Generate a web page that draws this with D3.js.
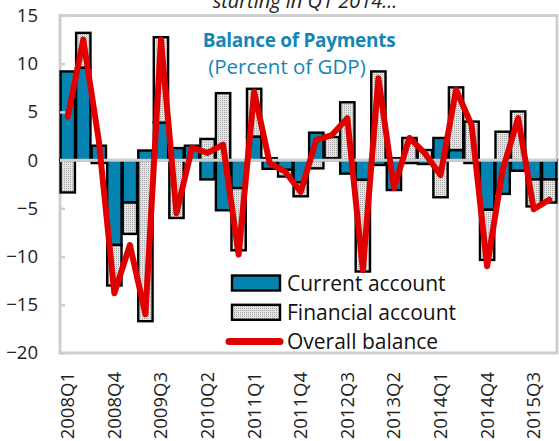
<!DOCTYPE html>
<html>
<head>
<meta charset="utf-8">
<script src="https://cdn.jsdelivr.net/npm/d3@7"></script>
<style>
  body { margin: 0; background: #fff; }
  svg { display: block; font-family: "Open Sans", "Noto Sans", sans-serif; }
</style>
</head>
<body>
<svg id="chart" width="559" height="441"></svg>
<script>
// quarters 2008Q1 .. 2015Q4
const quarters = [];
for (let y = 2008; y <= 2015; y++) for (let q = 1; q <= 4; q++) quarters.push(y + 'Q' + q);

const tickLabels = ['2008Q1', '2008Q4', '2009Q3', '2010Q2', '2011Q1', '2011Q4',
    '2012Q3', '2013Q2', '2014Q1', '2014Q4', '2015Q3'];

const currentAccount = [9.2, 9.6, 1.5, -8.8, -4.4, 1.0, 3.9, 1.25,
    1.5, -2.0, -5.2, -2.9, 2.45, -0.9, -1.0, -2.3,
    2.85, 0.2, -1.4, -2.05, -0.5, -3.1, -0.3, -0.4,
    2.3, 1.05, -0.3, -5.15, -3.5, -1.1, -2.0, -2.0];

const financialAccount = [-3.35, 3.6, -0.3, -4.2, -3.25, -16.7, 8.85, -6.0,
    0, 2.2, 6.95, -6.45, 4.95, 0.2, -0.7, -1.45,
    -0.85, 2.2, 6.0, -9.5, 9.2, 0.2, 2.3, 1.05,
    -3.85, 6.5, 4.0, -5.2, 2.95, 5.05, -2.8, -2.4];

const overallBalance = [4.5, 12.5, 2.0, -13.8, -8.8, -16.0, 12.5, -5.5,
    1.3, 0.75, 1.6, -9.8, 7.1, -0.3, -1.2, -3.3,
    2.1, 2.6, 4.35, -11.4, 8.5, -2.9, 2.3, 0.7,
    -1.55, 7.3, 3.65, -11.0, -1.0, 4.35, -5.1, -4.1];

const yTicks = [15, 10, 5, 0, -5, -10, -15, -20];

const svg = d3.select('#chart');
const margin = { top: 15.5, right: 2, bottom: 88, left: 60 };
const W = 559, H = 441;

const x = d3.scaleBand()
    .domain(quarters)
    .range([margin.left, W - margin.right])
    .padding(0);

const y = d3.scaleLinear()
    .domain([-20, 15])
    .range([H - margin.bottom, margin.top]);

// dotted fill for the financial account
const defs = svg.append('defs');
const pat = defs.append('pattern')
    .attr('id', 'dots')
    .attr('width', 2).attr('height', 2)
    .attr('patternUnits', 'userSpaceOnUse');
pat.append('rect').attr('width', 2).attr('height', 2).attr('fill', '#e4e4e4');
pat.append('rect').attr('width', 1).attr('height', 1).attr('fill', '#a8a8a8');

const blue = '#0584b1';
const red = '#e00000';

// cut-off note above the chart
svg.append('text')
    .attr('x', 305).attr('y', 8)
    .attr('text-anchor', 'middle')
    .attr('font-style', 'italic')
    .attr('font-size', 20)
    .attr('fill', '#222')
    .text('starting in Q1 2014...');

// plot frame
svg.append('rect')
    .attr('x', margin.left).attr('y', margin.top)
    .attr('width', W - margin.right - margin.left)
    .attr('height', H - margin.bottom - margin.top)
    .attr('fill', 'none')
    .attr('stroke', '#cfcfcf')
    .attr('stroke-width', 3);

// stacked bars
const rows = quarters.map((q, i) => ({ q: q, ca: currentAccount[i], fa: financialAccount[i] }));
const series = d3.stack()
    .keys(['ca', 'fa'])
    .offset(d3.stackOffsetDiverging)(rows);

svg.append('g')
    .selectAll('g')
    .data(series)
    .join('g')
    .attr('fill', d => d.key === 'ca' ? blue : 'url(#dots)')
    .selectAll('rect')
    .data(d => d)
    .join('rect')
    .attr('x', d => x(d.data.q) + 0.6)
    .attr('width', x.bandwidth() - 1.2)
    .attr('y', d => y(Math.max(d[0], d[1])))
    .attr('height', d => Math.abs(y(d[0]) - y(d[1])))
    .attr('stroke', '#000')
    .attr('stroke-width', 2.4);

// y axis
const yAxis = svg.append('g')
    .attr('transform', `translate(${margin.left},0)`)
    .call(d3.axisLeft(y).tickValues(yTicks).tickSize(-5).tickPadding(22));
yAxis.select('.domain').remove();
yAxis.selectAll('line').attr('stroke', '#cfcfcf').attr('stroke-width', 2.5);
yAxis.selectAll('text')
    .attr('font-size', 18.5)
    .attr('fill', '#222')
    .attr('font-family', '"Open Sans", sans-serif');

// zero line
svg.append('line')
    .attr('x1', margin.left).attr('x2', W - margin.right)
    .attr('y1', y(0)).attr('y2', y(0))
    .attr('stroke', '#cfcfcf')
    .attr('stroke-width', 3);

// x axis labels
const xAxis = svg.append('g')
    .attr('transform', `translate(0,${H - margin.bottom})`)
    .call(d3.axisBottom(x).tickValues(tickLabels).tickSize(0).tickPadding(0));
xAxis.select('.domain').remove();
xAxis.selectAll('text')
    .attr('font-size', 18.5)
    .attr('fill', '#222')
    .attr('font-family', '"Open Sans", sans-serif')
    .attr('text-anchor', 'end')
    .attr('dy', '0.35em')
    .attr('transform', 'translate(0,19) rotate(-90)')
    .attr('x', 0).attr('y', 0);

// overall balance line
const line = d3.line()
    .x((d, i) => x(quarters[i]) + x.bandwidth() / 2)
    .y(d => y(d));

svg.append('path')
    .datum(overallBalance)
    .attr('d', line)
    .attr('fill', 'none')
    .attr('stroke', red)
    .attr('stroke-width', 6)
    .attr('stroke-linejoin', 'round')
    .attr('stroke-linecap', 'round');

// chart title inside plot
svg.append('text')
    .attr('x', 299).attr('y', 47)
    .attr('text-anchor', 'middle')
    .attr('font-weight', 'bold')
    .attr('font-size', 19)
    .attr('letter-spacing', -0.3)
    .attr('fill', '#1486b3')
    .text('Balance of Payments');
svg.append('text')
    .attr('x', 287).attr('y', 74)
    .attr('text-anchor', 'middle')
    .attr('font-size', 20.5)
    .attr('fill', '#1486b3')
    .text('(Percent of GDP)');

// legend
const legend = svg.append('g');
const legendItems = [
    { label: 'Current account', type: 'ca' },
    { label: 'Financial account', type: 'fa' },
    { label: 'Overall balance', type: 'ob' }
];
legendItems.forEach((d, i) => {
    const cy = 283 + i * 29.3;
    if (d.type === 'ob') {
        legend.append('line')
            .attr('x1', 229).attr('x2', 280)
            .attr('y1', cy).attr('y2', cy)
            .attr('stroke', red)
            .attr('stroke-width', 7)
            .attr('stroke-linecap', 'round');
    } else {
        legend.append('rect')
            .attr('x', 232).attr('y', cy - 7.5)
            .attr('width', 48).attr('height', 15)
            .attr('fill', d.type === 'ca' ? blue : 'url(#dots)')
            .attr('stroke', '#000')
            .attr('stroke-width', 2.4);
    }
    legend.append('text')
        .attr('x', 287).attr('y', cy)
        .attr('dy', '0.36em')
        .attr('font-size', 21)
        .attr('fill', '#111')
        .text(d.label);
});
</script>
</body>
</html>
